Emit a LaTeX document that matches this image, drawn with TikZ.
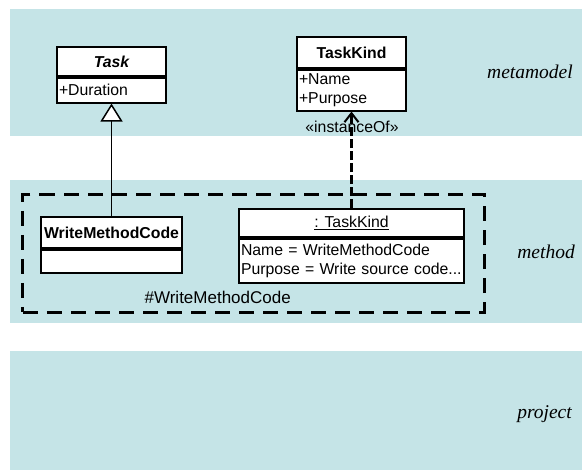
\documentclass[tikz,border=0pt]{standalone}
\usepackage{fontspec}
\setsansfont{Liberation Sans}
\newfontfamily\layerfont{Liberation Serif}
\usetikzlibrary{arrows.meta,positioning}
\definecolor{bandBlue}{HTML}{C5E4E7}

\tikzset{
  layerlabel/.style={anchor=east,inner sep=0pt,font=\layerfont\fontsize{19.5bp}{21bp}\selectfont\itshape},
  umlfont/.style={font=\sffamily\fontsize{15.8bp}{19bp}\selectfont},
  classhead/.style={draw,fill=white,line width=1.7bp,inner sep=0pt,umlfont},
  classbody/.style={draw,fill=white,line width=1.7bp,inner xsep=2bp,inner ysep=0pt,align=left,umlfont},
}

\begin{document}
\begin{tikzpicture}[x=1bp,y=-1bp]
        \useasboundingbox (0,0) rectangle (582,470);
        % the three layers
        \fill[bandBlue] (10,9) rectangle (582,136);
        \fill[bandBlue] (10,180.5) rectangle (582,323);
        \fill[bandBlue] (10,351) rectangle (582,470);
        \node[layerlabel] (lmeta) at (573,72) {metamodel};
        \node[layerlabel] (lmethod) at (575,252) {method};
        \node[layerlabel] (lproject) at (572,414) {project};
        % package frame
        \node[draw,line width=3bp,dash pattern=on 15bp off 9bp,minimum width=461bp,minimum height=117.5bp] (pkg) at (253.5,253.25) {};
        \node[umlfont,font=\sffamily\fontsize{17bp}{19bp}\selectfont] (pkglbl) at (217.7,297.7) {\#WriteMethodCode};
        % metamodel classes
        \node[classhead,minimum width=109bp,minimum height=29bp] (task) at (111.5,61.5)
          {\bfseries\itshape Task};
        \node[classbody,text width=105bp,minimum height=25bp,below=0pt of task] (taskattr)
          {+Duration};
        \node[classhead,minimum width=109bp,minimum height=31bp] (kind) at (351.5,52.5)
          {\bfseries TaskKind};
        \node[classbody,text width=105bp,minimum height=41bp,below=0pt of kind] (kindattr)
          {+Name\\+Purpose};
        % method elements
        \node[classhead,minimum width=141bp,minimum height=31bp] (wmc) at (111.5,232.5)
          {\bfseries WriteMethodCode};
        \node[classbody,minimum width=141bp,minimum height=23bp,below=0pt of wmc] (wmcattr) {};
        \node[classhead,minimum width=225bp,minimum height=28bp] (obj) at (351.5,223)
          {\underline{: TaskKind}};
        \node[classbody,text width=221bp,minimum height=44bp,below=0pt of obj] (objattr)
          {Name = WriteMethodCode\\Purpose = Write source code...};
        % relations
        \node[umlfont] (instlbl) at (352,127) {«instanceOf»};
        \draw[line width=1.8bp,-{Triangle[length=18bp,width=22bp,fill=white,line width=1.5bp]}] (wmc) -- (taskattr);
        \draw[line width=3bp,dash pattern=on 9bp off 3bp,-{Straight Barb[length=9bp,width=14bp,line width=2bp]}] (obj) -- (kindattr);
      \end{tikzpicture}
\end{document}
